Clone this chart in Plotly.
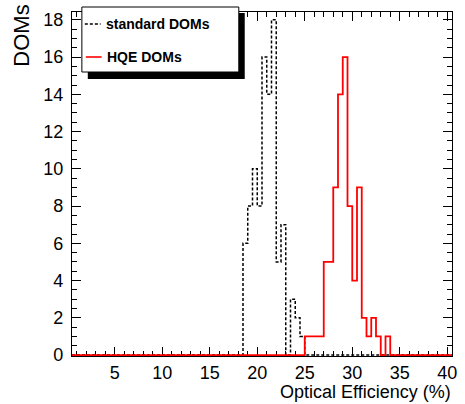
import numpy as np
import plotly.graph_objects as go

# ---- data (histogram counts, bin width 0.5) ----
bin_width = 0.5
x_min, x_max = 0.5, 40.5
std_start = 18.5
std_counts = [6, 8, 10, 8, 16, 14, 18, 5, 7, 0, 3, 2, 1]
hqe_start = 25.0
hqe_counts = [1, 1, 1, 1, 5, 5, 9, 14, 16, 8, 4, 9, 2, 1, 2, 1, 0, 1]
x_ticks = [5, 10, 15, 20, 25, 30, 35, 40]
y_ticks = [0, 2, 4, 6, 8, 10, 12, 14, 16, 18]


def full_hist(start, counts):
    nb = int(round((x_max - x_min) / bin_width))
    edges = x_min + bin_width * np.arange(nb + 1)
    vals = np.zeros(nb)
    i0 = int(round((start - x_min) / bin_width))
    vals[i0:i0 + len(counts)] = counts
    xs = list(edges)
    ys = list(vals) + [vals[-1]]
    return xs, ys


sx, sy = full_hist(std_start, std_counts)
hx, hy = full_hist(hqe_start, hqe_counts)

W, H = 465, 404
L, R, T, B = 72, 8, 12, 48
pw, ph = W - L - R, H - T - B


def px(x):
    return (x - L) / pw


def py(y):
    return (H - B - y) / ph


fig = go.Figure()
fig.add_trace(go.Scatter(x=sx, y=sy, mode="lines", line_shape="hv",
                         line=dict(color="black", width=1.5, dash="3px,2px"),
                         name="standard DOMs", showlegend=False))
fig.add_trace(go.Scatter(x=hx, y=hy, mode="lines", line_shape="hv",
                         line=dict(color="red", width=1.8),
                         name="HQE DOMs", showlegend=False))

font = "Liberation Sans, Arial, Helvetica, sans-serif"
axis_common = dict(showline=True, linecolor="black", linewidth=1.4, mirror="ticks",
                   ticks="inside", ticklen=9, tickcolor="black", tickwidth=1,
                   showgrid=False, zeroline=False,
                   tickfont=dict(family=font, size=18, color="black"))

fig.update_xaxes(range=[x_min, x_max], tickvals=x_ticks, layer="below traces",
                 minor=dict(ticks="inside", ticklen=5, dtick=1, tick0=0, tickcolor="black"),
                 **axis_common)
fig.update_yaxes(range=[-0.05, 18.42], tickvals=y_ticks, ticklabelstandoff=4,
                 minor=dict(ticks="inside", ticklen=5, dtick=0.5, tick0=0, tickcolor="black"),
                 **axis_common)

shapes = [
    # legend shadow
    dict(type="rect", xref="paper", yref="paper", x0=px(88), x1=px(247), y0=py(79), y1=py(13),
         fillcolor="black", line=dict(width=0), layer="above"),
    # legend box
    dict(type="rect", xref="paper", yref="paper", x0=px(82), x1=px(241), y0=py(72), y1=py(7),
         fillcolor="white", line=dict(color="black", width=1), layer="above"),
    dict(type="line", xref="paper", yref="paper", x0=px(85), x1=px(101), y0=py(24), y1=py(24),
         line=dict(color="black", width=1.5, dash="3px,2px"), layer="above"),
    dict(type="line", xref="paper", yref="paper", x0=px(86), x1=px(102), y0=py(57), y1=py(57),
         line=dict(color="red", width=1.6), layer="above"),
]

annotations = [
    dict(text="<b>standard DOMs</b>", xref="paper", yref="paper", x=px(104), y=py(24),
         xanchor="left", yanchor="middle", showarrow=False,
         font=dict(family=font, size=14, color="black")),
    dict(text="<b>HQE DOMs</b>", xref="paper", yref="paper", x=px(105), y=py(57),
         xanchor="left", yanchor="middle", showarrow=False,
         font=dict(family=font, size=14, color="black")),
    dict(text="Optical Efficiency (%)", xref="paper", yref="paper", x=1.0, y=py(381),
         xanchor="right", yanchor="top", showarrow=False, borderpad=0,
         font=dict(family=font, size=18, color="black")),
    dict(text="DOMs", xref="paper", yref="paper", x=px(21), y=py(3), textangle=-90,
         xanchor="center", yanchor="top", showarrow=False,
         font=dict(family=font, size=22, color="black")),
]

fig.update_layout(width=W, height=H, margin=dict(l=L, r=R, t=T, b=B),
                  plot_bgcolor="white", paper_bgcolor="white",
                  shapes=shapes, annotations=annotations, showlegend=False)

fig.write_html("out.html", config={"displayModeBar": False},
               post_script="document.body.style.margin='0';document.body.style.padding='0';")
